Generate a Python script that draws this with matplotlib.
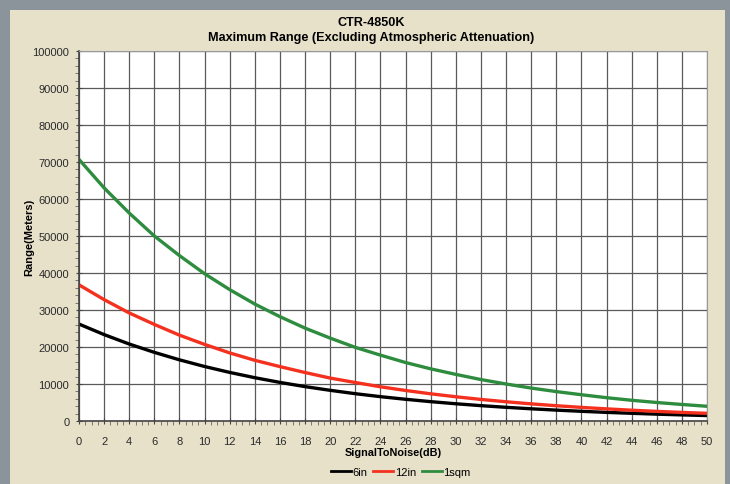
import matplotlib
matplotlib.use("Agg")
import matplotlib.pyplot as plt
from matplotlib.patches import Rectangle
from matplotlib.ticker import MultipleLocator

plt.rcParams['font.family'] = ['Liberation Sans', 'DejaVu Sans']

snr = [0, 2, 4, 6, 8, 10, 12, 14, 16, 18, 20, 22, 24, 26, 28, 30, 32, 34, 36, 38, 40, 42, 44, 46, 48, 50]
range_6in = [26200, 23350, 20800, 18550, 16530, 14730, 13130, 11700, 10430, 9290, 8290, 7380, 6580,
             5870, 5230, 4660, 4150, 3700, 3300, 2940, 2620, 2330, 2080, 1850, 1650, 1470]
range_12in = [36800, 32800, 29200, 26100, 23200, 20700, 18400, 16400, 14700, 13100, 11600, 10400, 9250,
              8250, 7350, 6550, 5830, 5200, 4630, 4130, 3680, 3280, 2920, 2600, 2320, 2070]
range_1sqm = [70700, 63000, 56200, 50000, 44700, 39800, 35500, 31600, 28200, 25100, 22400, 19900, 17800,
              15800, 14100, 12600, 11200, 10000, 8900, 7950, 7100, 6300, 5600, 5000, 4470, 3980]
series_names = ['6in', '12in', '1sqm']

fig = plt.figure(figsize=(7.3, 4.85), dpi=100)
fig.patch.set_facecolor('#8b949b')
bg = Rectangle((10 / 730, 0), 715 / 730, 474 / 485, transform=fig.transFigure,
               facecolor='#e7e1ca', edgecolor='none', zorder=-10)
fig.add_artist(bg)

ax = fig.add_axes([79 / 730, 1 - 422 / 485, 628 / 730, 370 / 485])
ax.set_facecolor('white')
ax.plot(snr, range_6in, color='black', lw=2.4, label=series_names[0])
ax.plot(snr, range_12in, color='#f4301f', lw=2.4, label=series_names[1])
ax.plot(snr, range_1sqm, color='#2e8c3f', lw=2.4, label=series_names[2])

ax.set_xlim(0, 50)
ax.set_ylim(0, 100000)
ax.xaxis.set_major_locator(MultipleLocator(2))
ax.xaxis.set_minor_locator(MultipleLocator(0.5))
ax.yaxis.set_major_locator(MultipleLocator(10000))
ax.yaxis.set_minor_locator(MultipleLocator(2000))
ax.grid(True, which='major', color='#5a5a5a', lw=0.9)
ax.set_axisbelow(True)
ax.tick_params(which='major', direction='inout', length=5, color='#444444', labelsize=8,
               labelcolor='#2a2a2a')
ax.tick_params(axis='x', which='major', pad=8)
ax.tick_params(axis='y', which='major', pad=4.5)
ax.tick_params(which='minor', direction='out', length=3, color='#666666')
for s in ['top', 'right']:
    ax.spines[s].set_color('#999999')
for s in ['left', 'bottom']:
    ax.spines[s].set_color('#444444')
    ax.spines[s].set_linewidth(1.2)

ax.set_xlabel('SignalToNoise(dB)', fontsize=7.8, fontweight='bold')
ax.xaxis.set_label_coords(0.5, -(453 - 422) / 370)
ax.xaxis.label.set_verticalalignment('center')
ax.set_ylabel('Range(Meters)', fontsize=8, fontweight='bold')
ax.yaxis.set_label_coords(-50 / 628, 0.5)
ax.yaxis.label.set_verticalalignment('center')
fig.suptitle('CTR-4850K\nMaximum Range (Excluding Atmospheric Attenuation)', fontsize=9.1,
             fontweight='bold', x=371 / 730, y=1 - 30.5 / 485, va='center', linespacing=1.25)

leg = fig.legend(loc='center', bbox_to_anchor=(401 / 730, 12 / 485), ncol=3, frameon=False,
                 fontsize=8, handlelength=1.8, handletextpad=0.15, columnspacing=0.5)
for h in leg.get_lines():
    h.set_linewidth(2.0)

fig.savefig('out.png', dpi=100, facecolor=fig.get_facecolor())
